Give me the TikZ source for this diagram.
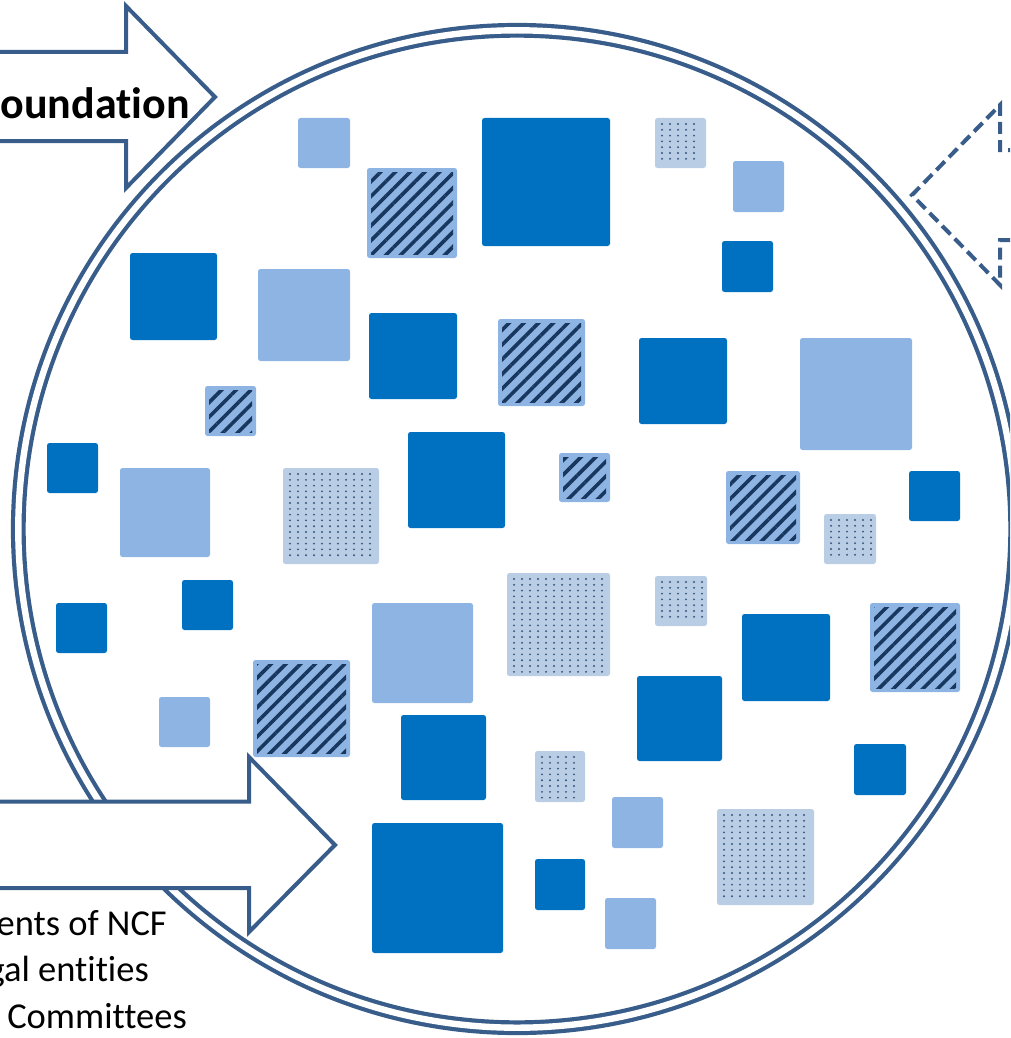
\documentclass[tikz,border=0pt]{standalone}
\usepackage{fontspec}
\setmainfont{Carlito}[Ligatures=NoCommon]
\usetikzlibrary{patterns.meta}
\definecolor{lineblue}{HTML}{385D8A}
\definecolor{darksq}{HTML}{0070C0}
\definecolor{lightsq}{HTML}{8EB4E3}
\definecolor{palesq}{HTML}{B9CDE5}
\definecolor{hatchc}{HTML}{17375E}
\definecolor{dotc}{HTML}{35557F}
\tikzset{
  darkbox/.style={fill=darksq, rounded corners=2.5pt},
  lightbox/.style={fill=lightsq, rounded corners=2.5pt},
  palebox/.style={fill=palesq, rounded corners=2.5pt},
  hatchfill/.style={pattern={Lines[angle=45,distance=10.4pt,line width=3.6pt]}, pattern color=hatchc},
  dotmark/.style={fill=dotc},
  blockarrow/.style={draw=lineblue, fill=white, line width=4pt, miter limit=10},
  dasharrow/.style={draw=lineblue, line width=4pt, dash pattern=on 12pt off 6pt},
  ring/.style={draw=lineblue, double=white, line width=4.2pt, double distance=6.4pt},
  bigtxt/.style={inner sep=0pt, font=\fontsize{44}{50}\selectfont\bfseries},
  listtxt/.style={inner sep=0pt, font=\fontsize{36.5}{42}\selectfont}
}
\newcommand\sqDark[4]{\fill[darkbox] (#1,#2) rectangle (#3,#4);}
\newcommand\sqLight[4]{\fill[lightbox] (#1,#2) rectangle (#3,#4);}
\newcommand\sqHatch[4]{\fill[lightbox] (#1,#2) rectangle (#3,#4);
  \fill[hatchfill] ([shift={(4,4)}]#1,#2) rectangle ([shift={(-4,-4)}]#3,#4);}
\newcommand\sqDot[4]{\fill[palebox] (#1,#2) rectangle (#3,#4);
  \pgfmathsetmacro\dsxa{#1+7}\pgfmathsetmacro\dsxb{#1+15}\pgfmathsetmacro\dsxe{#3-5}%
  \pgfmathsetmacro\dsya{#2+6}\pgfmathsetmacro\dsyb{#2+11.8}\pgfmathsetmacro\dsye{#4-4}%
  \foreach \px in {\dsxa,\dsxb,...,\dsxe}{\foreach \py in {\dsya,\dsyb,...,\dsye}{\fill[dotmark] (\px,\py) circle (1.05pt);}}}
\begin{document}
\begin{tikzpicture}[x=1pt,y=-1pt]
\useasboundingbox (0,0) rectangle (1010,1038);
\clip (0,0) rectangle (1010,1038);
% ring
\coordinate (c) at (517,529);
\draw[ring] (c) circle (498.7pt);
% squares
\sqLight{298}{118}{350}{168}
\sqHatch{367}{168}{457}{258}
\sqDark{482}{118}{610}{246}
\sqDot{655}{118}{706}{168}
\sqLight{733}{161}{784}{212}
\sqDark{722}{241}{773}{292}
\sqDark{130}{253}{217}{340}
\sqLight{258}{269}{350}{361}
\sqDark{369}{313}{457}{399}
\sqHatch{498}{319}{585}{406}
\sqDark{639}{338}{727}{424}
\sqLight{800}{338}{912}{450}
\sqHatch{205}{386}{256}{436}
\sqDark{47}{443}{98}{493}
\sqLight{120}{468}{210}{557}
\sqDot{283}{468}{379}{564}
\sqDark{408}{432}{505}{528}
\sqHatch{559}{453}{610}{502}
\sqHatch{726}{471}{800}{544}
\sqDot{824}{514}{876}{564}
\sqDark{909}{471}{960}{521}
\sqDark{56}{603}{107}{653}
\sqDark{182}{580}{233}{630}
\sqDot{507}{573}{610}{676}
\sqDot{655}{576}{707}{626}
\sqLight{372}{603}{473}{703}
\sqDark{742}{614}{830}{701}
\sqHatch{870}{603}{960}{692}
\sqHatch{253}{660}{350}{757}
\sqLight{159}{697}{210}{747}
\sqDark{637}{676}{722}{761}
\sqDark{401}{715}{486}{800}
\sqDot{535}{751}{585}{802}
\sqDark{854}{744}{906}{795}
\sqLight{612}{797}{663}{848}
\sqDot{717}{809}{814}{905}
\sqDark{372}{823}{503}{953}
\sqDark{535}{859}{585}{910}
\sqLight{605}{898}{656}{949}
% top-left block arrow
\draw[blockarrow] (-10,52) -- (126,52) -- (126,6) -- (215,97) -- (126,188) -- (126,141) -- (-10,141) -- cycle;
\node[bigtxt, anchor=base east] (found) at (190,118) {oundation};
% bottom-left block arrow
\draw[blockarrow] (-10,801.5) -- (249,801.5) -- (249,757) -- (335,845) -- (249,932) -- (249,888) -- (-10,888) -- cycle;
% right dashed arrow
\draw[dasharrow] (1020,150) -- (1000,150) -- (1000,105) -- (912,195) -- (1000,285) -- (1000,240) -- (1020,240);
% list text
\node[listtxt, anchor=base east] (l1) at (167,935) {ents of NCF};
\node[listtxt, anchor=base east] (l2) at (149,981) {gal entities};
\node[listtxt, anchor=base east] (l3) at (187,1028) {Committees};
\end{tikzpicture}
\end{document}
